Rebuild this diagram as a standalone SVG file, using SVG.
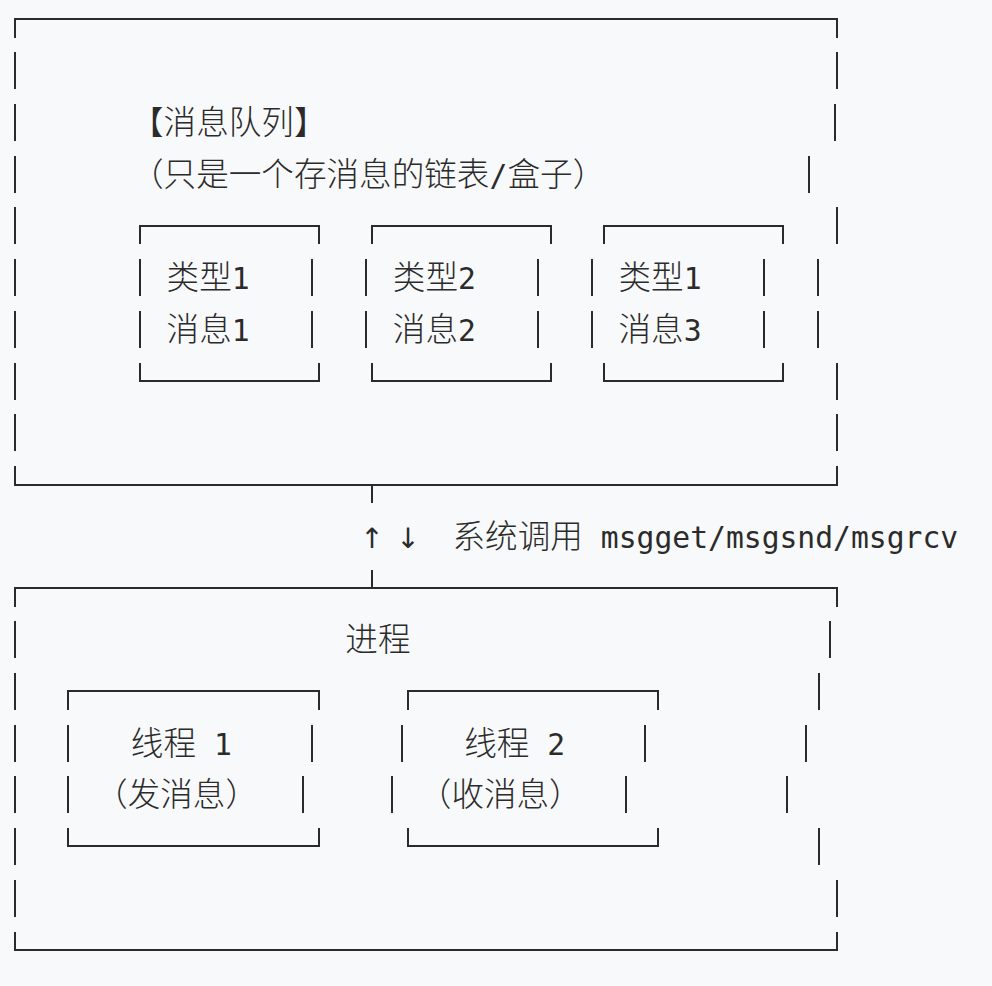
<svg xmlns="http://www.w3.org/2000/svg" width="992" height="986" viewBox="0 0 992 986">
<style>
.ln{fill:none;stroke:#2b2b2b;stroke-width:2;stroke-linecap:butt}
.cjk{font-family:"Noto Sans CJK SC","Noto Sans",sans-serif;font-size:32.6px;font-weight:300;fill:#2b2b2b}
.mono{font-family:"DejaVu Sans Mono","Liberation Mono",monospace;font-size:29.7px;fill:#2b2b2b}
.arr{font-family:"DejaVu Sans","Noto Sans",sans-serif;font-size:28px;fill:#2b2b2b;text-anchor:middle}
</style>
<rect width="992" height="986" fill="#f8f9fa"/>

<g id="queue">
<path class="ln" d="M15,38V19H837V38"/>
<path class="ln" d="M15,52V89M15,104V141M15,156V193M15,207V244M15,259V296M15,311V348M15,363V400M15,414V451"/>
<path class="ln" d="M15,466V485H837V466"/>
<path class="ln" d="M837,52V89M835,104V141M809,156V193M837,207V244M818,259V296M818,311V348M837,363V400M837,414V451"/>
<text class="cjk" x="131" y="133.9">【消息队列】</text>
<text class="cjk" x="131" y="185.7">（只是一个存消息的链表</text>
<text class="mono" x="489.6" y="185.7">/</text>
<text class="cjk" x="507.5" y="185.7">盒子）</text>
</g>

<g id="msg1">
<path class="ln" d="M140,244V226H319V244M140,259V296M140,311V348M312,259V296M312,311V348M140,363V381H319V363"/>
<text class="cjk" x="166.6" y="289.1">类型</text><text class="mono" x="231.8" y="289.1">1</text>
<text class="cjk" x="166.6" y="340.8">消息</text><text class="mono" x="231.8" y="340.8">1</text>
</g>

<g id="msg2">
<path class="ln" d="M372,244V226H551V244M366,259V296M366,311V348M538,259V296M538,311V348M372,363V381H551V363"/>
<text class="cjk" x="392.8" y="289.1">类型</text><text class="mono" x="458" y="289.1">2</text>
<text class="cjk" x="392.8" y="340.8">消息</text><text class="mono" x="458" y="340.8">2</text>
</g>

<g id="msg3">
<path class="ln" d="M604,244V226H783V244M592,259V296M592,311V348M764,259V296M764,311V348M604,363V381H783V363"/>
<text class="cjk" x="618.5" y="289.1">类型</text><text class="mono" x="683.7" y="289.1">1</text>
<text class="cjk" x="618.5" y="340.8">消息</text><text class="mono" x="683.7" y="340.8">3</text>
</g>

<g id="connectors">
<path class="ln" d="M372,485V503M372,570V588"/>
<text class="arr" x="372" y="547.7">↑</text>
<text class="arr" x="408" y="547.7">↓</text>
<text class="cjk" x="452.5" y="547.7">系统调用</text>
<text class="mono" x="600.8" y="547.7" textLength="357.4" lengthAdjust="spacingAndGlyphs">msgget/msgsnd/msgrcv</text>
</g>

<g id="process">
<path class="ln" d="M15,607V588H837V607"/>
<path class="ln" d="M15,621V658M15,673V710M15,725V762M15,776V813M15,828V865M15,880V917"/>
<path class="ln" d="M15,932V950H837V932"/>
<path class="ln" d="M830,621V658M819,673V710M806,725V762M787,776V813M819,828V865M837,880V917"/>
<text class="cjk" x="345.3" y="651.1">进程</text>
</g>

<g id="thread1">
<path class="ln" d="M68,710V691H319V710M68,725V762M68,776V813M312,725V762M303,776V813M68,828V846H319V828"/>
<text class="cjk" x="130.8" y="754.6">线程</text><text class="mono" x="213.9" y="754.6">1</text>
<text class="cjk" x="95.1" y="806.3">（发消息）</text>
</g>

<g id="thread2">
<path class="ln" d="M408,710V691H658V710M402,725V762M392,776V813M645,725V762M626,776V813M408,828V846H658V828"/>
<text class="cjk" x="464.2" y="754.6">线程</text><text class="mono" x="547.3" y="754.6">2</text>
<text class="cjk" x="418.8" y="806.3">（收消息）</text>
</g>
</svg>
